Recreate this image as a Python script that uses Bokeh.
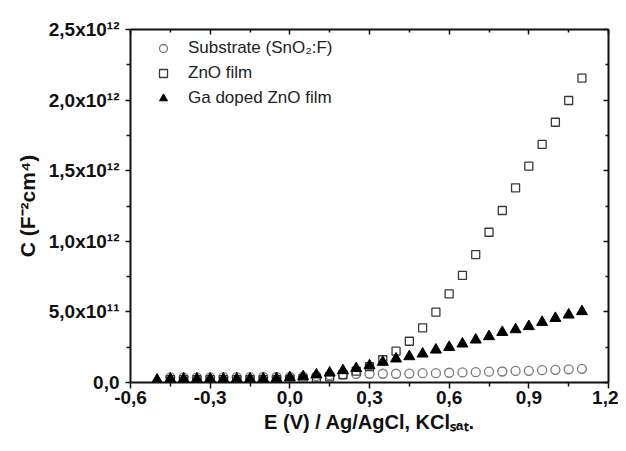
from bokeh.plotting import figure
from bokeh.models import (LinearAxis, FixedTicker, Range1d, Legend, LegendItem,
                          CustomJSTickFormatter)
from bokeh.embed import file_html
from bokeh.resources import INLINE

# ---- data ----
E_SUB = [-0.45, -0.40, -0.35, -0.30, -0.25, -0.20, -0.15, -0.10, -0.05, 0.00,
         0.05, 0.10, 0.15, 0.20, 0.25, 0.30, 0.35, 0.40, 0.45, 0.50,
         0.55, 0.60, 0.65, 0.70, 0.75, 0.80, 0.85, 0.90, 0.95, 1.00, 1.05, 1.10]
C_SUB = [0.037e12, 0.037e12, 0.037e12, 0.037e12, 0.038e12, 0.038e12, 0.038e12, 0.039e12, 0.039e12, 0.040e12,
         0.042e12, 0.045e12, 0.052e12, 0.058e12, 0.061e12, 0.062e12, 0.062e12, 0.062e12, 0.063e12, 0.066e12,
         0.066e12, 0.069e12, 0.071e12, 0.073e12, 0.077e12, 0.078e12, 0.082e12, 0.083e12, 0.087e12, 0.090e12,
         0.093e12, 0.097e12]

E_ZNO = [-0.45, -0.40, -0.35, -0.30, -0.25, -0.20, -0.15, -0.10, -0.05, 0.00,
         0.05, 0.10, 0.15, 0.20, 0.25, 0.30, 0.35, 0.40, 0.45, 0.50,
         0.55, 0.60, 0.65, 0.70, 0.75, 0.80, 0.85, 0.90, 0.95, 1.00, 1.05, 1.10]
C_ZNO = [0.020e12, 0.020e12, 0.020e12, 0.020e12, 0.020e12, 0.020e12, 0.020e12, 0.020e12, 0.021e12, 0.022e12,
         0.025e12, 0.030e12, 0.040e12, 0.055e12, 0.080e12, 0.113e12, 0.161e12, 0.222e12, 0.292e12, 0.387e12,
         0.498e12, 0.628e12, 0.758e12, 0.906e12, 1.064e12, 1.218e12, 1.379e12, 1.532e12, 1.686e12, 1.843e12,
         1.997e12, 2.155e12]

E_GA = [-0.50, -0.45, -0.40, -0.35, -0.30, -0.25, -0.20, -0.15, -0.10, -0.05, 0.00,
        0.05, 0.10, 0.15, 0.20, 0.25, 0.30, 0.35, 0.40, 0.45, 0.50,
        0.55, 0.60, 0.65, 0.70, 0.75, 0.80, 0.85, 0.90, 0.95, 1.00, 1.05, 1.10]
C_GA = [0.018e12, 0.025e12, 0.025e12, 0.025e12, 0.025e12, 0.025e12, 0.025e12, 0.025e12, 0.026e12, 0.028e12, 0.035e12,
        0.042e12, 0.055e12, 0.068e12, 0.085e12, 0.100e12, 0.120e12, 0.144e12, 0.168e12, 0.184e12, 0.203e12,
        0.231e12, 0.250e12, 0.274e12, 0.302e12, 0.326e12, 0.356e12, 0.375e12, 0.397e12, 0.427e12, 0.455e12,
        0.479e12, 0.503e12]

SERIES_LABELS = ["Substrate (SnO\u2082:F)", "ZnO film", "Ga doped ZnO film"]

X_TICKS = [-0.6, -0.3, 0.0, 0.3, 0.6, 0.9, 1.2]
X_MINOR = [-0.45, -0.15, 0.15, 0.45, 0.75, 1.05]
X_TICK_LABELS = ["-0,6", "-0,3", "0,0", "0,3", "0,6", "0,9", "1,2"]
Y_TICKS = [0.0, 0.5e12, 1.0e12, 1.5e12, 2.0e12, 2.5e12]
Y_MINOR = [0.25e12, 0.75e12, 1.25e12, 1.75e12, 2.25e12]
Y_TICK_LABELS = ["0,0", "5,0x10\u00b9\u00b9", "1,0x10\u00b9\u00b2", "1,5x10\u00b9\u00b2",
                 "2,0x10\u00b9\u00b2", "2,5x10\u00b9\u00b2"]

X_LABEL = "E (V) / Ag/AgCl, KCl\u209b\u2090\u209c."
Y_LABEL = "C (F\u207b\u00b2cm\u2074)"

FONT = "Liberation Sans"

p = figure(width=618, height=443, output_backend="svg", toolbar_location=None,
           x_range=Range1d(-0.6, 1.2), y_range=Range1d(0, 2.5e12),
           x_axis_location=None, y_axis_location=None,
           min_border_left=130, min_border_right=10, min_border_top=29, min_border_bottom=61)
p.grid.visible = False
p.outline_line_color = None
p.background_fill_color = "white"
p.border_fill_color = "white"

lookup = """
const i = tick_vals.findIndex(t => Math.abs(t - tick) <= 1e-6 * (Math.abs(t) + 1e-12));
return i >= 0 ? tick_labels[i] : '';
"""
fx = CustomJSTickFormatter(args=dict(tick_vals=X_TICKS, tick_labels=X_TICK_LABELS), code=lookup)
fy = CustomJSTickFormatter(args=dict(tick_vals=Y_TICKS, tick_labels=Y_TICK_LABELS), code=lookup)
blank = CustomJSTickFormatter(code="return '';")

def style(ax, tick_in, tick_out, minor_in, minor_out):
    ax.axis_line_width = 2
    ax.axis_line_color = "#111111"
    ax.major_tick_line_width = 1.5
    ax.minor_tick_line_width = 1.5
    ax.major_tick_line_color = "#111111"
    ax.minor_tick_line_color = "#111111"
    ax.major_tick_in = tick_in
    ax.major_tick_out = tick_out
    ax.minor_tick_in = minor_in
    ax.minor_tick_out = minor_out
    ax.major_label_text_font = FONT
    ax.major_label_text_font_style = "bold"
    ax.major_label_text_font_size = "19px"
    ax.major_label_text_color = "#111111"
    ax.axis_label_text_font = FONT
    ax.axis_label_text_font_style = "bold"
    ax.axis_label_text_font_size = "19px"
    ax.axis_label_text_color = "#111111"

xb = LinearAxis(ticker=FixedTicker(ticks=X_TICKS, minor_ticks=X_MINOR), formatter=fx,
                axis_label=X_LABEL)
style(xb, 0, 6, 0, 4)
xb.major_label_standoff = 2
xb.axis_label_standoff = 4
xb.axis_label_text_font_size = "20px"
p.add_layout(xb, "below")

xt = LinearAxis(ticker=FixedTicker(ticks=X_TICKS, minor_ticks=X_MINOR), formatter=blank)
style(xt, 5, 0, 3, 0)
xt.major_label_text_font_size = "0px"
xt.major_label_standoff = 0
p.add_layout(xt, "above")

yl = LinearAxis(ticker=FixedTicker(ticks=Y_TICKS, minor_ticks=Y_MINOR), formatter=fy,
                axis_label=Y_LABEL)
style(yl, 0, 5, 0, 4)
yl.major_label_standoff = 6
yl.axis_label_standoff = 7
yl.axis_label_text_font_size = "21px"
p.add_layout(yl, "left")

yr = LinearAxis(ticker=FixedTicker(ticks=Y_TICKS, minor_ticks=Y_MINOR), formatter=blank)
style(yr, 5, 0, 3, 0)
yr.major_label_text_font_size = "0px"
yr.major_label_standoff = 0
p.add_layout(yr, "right")

r_sub = p.scatter(E_SUB, C_SUB, marker="circle", size=9, fill_color=None,
                  line_color="#7a7a7a", line_width=1.3)
r_zno = p.scatter(E_ZNO, C_ZNO, marker="square", size=8, fill_color=None,
                  line_color="#3a3a3a", line_width=1.3)
r_ga = p.scatter(E_GA, C_GA, marker="triangle", size=11, fill_color="#000000",
                 line_color="#000000", line_width=1)

legend = Legend(items=[LegendItem(label=SERIES_LABELS[0], renderers=[r_sub]),
                       LegendItem(label=SERIES_LABELS[1], renderers=[r_zno]),
                       LegendItem(label=SERIES_LABELS[2], renderers=[r_ga])],
                location="top_left", border_line_color=None, background_fill_alpha=0,
                padding=9, margin=9, spacing=5, glyph_width=48, glyph_height=20,
                label_height=20, label_standoff=1,
                label_text_font=FONT, label_text_font_size="17px",
                label_text_color="#222222")
p.add_layout(legend)

open("out.html", "w").write(file_html(p, INLINE))
